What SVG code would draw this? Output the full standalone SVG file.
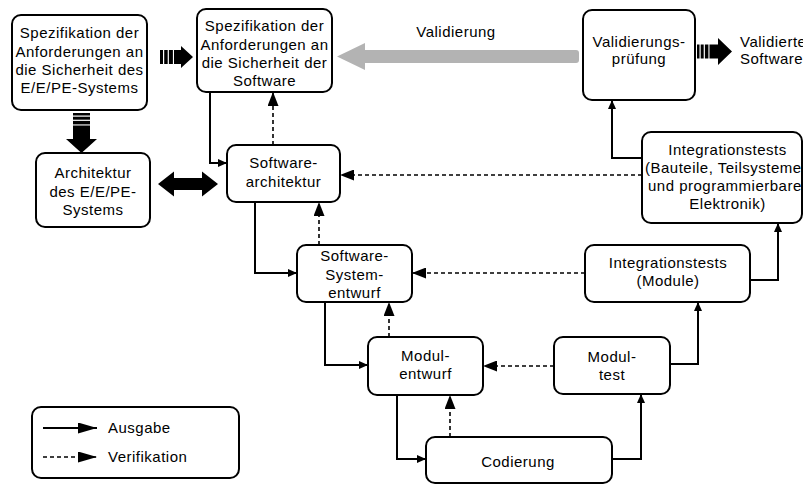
<svg xmlns="http://www.w3.org/2000/svg" width="803" height="484" viewBox="0 0 803 484">
  <style>
    .box { fill: #ffffff; stroke: #000000; stroke-width: 2; }
    .t { font-family: "Liberation Sans", Arial, sans-serif; font-size: 15px; letter-spacing: 0.5px; fill: #000000; text-anchor: middle; }
    .ts { text-anchor: start; }
    .out { fill: none; stroke: #000000; stroke-width: 2; marker-end: url(#headOut); }
    .ver { fill: none; stroke: #000000; stroke-width: 1.6; stroke-dasharray: 4 3; marker-end: url(#headVer); }
    .blk { fill: #000000; }
  </style>
  <defs>
    <marker id="headOut" markerUnits="userSpaceOnUse" markerWidth="9" markerHeight="8" refX="9" refY="4" orient="auto">
      <path d="M0,0 L9,4 L0,8 Z" fill="#000000"/>
    </marker>
    <marker id="headVer" markerUnits="userSpaceOnUse" markerWidth="14" markerHeight="11" refX="14" refY="5.5" orient="auto">
      <path d="M0,0 L14,5.5 L0,11 Z" fill="#000000"/>
    </marker>
    <marker id="headLeg" markerUnits="userSpaceOnUse" markerWidth="19" markerHeight="11" refX="19" refY="5.5" orient="auto">
      <path d="M0,0 L19,5.5 L0,11 Z" fill="#000000"/>
    </marker>
  </defs>

  <rect width="803" height="484" fill="#ffffff"/>

  <!-- connectors -->
  <g id="connectors">
    <!-- Validierung (grey block arrow) -->
    <path d="M337,56.5 L365,43 L365,50 L576,50 Q579,50 579,53 L579,60 Q579,63 576,63 L365,63 L365,70 Z" fill="#b3b3b3"/>
    <text class="t" x="456" y="37">Validierung</text>

    <!-- striped block arrow: system spec -> software spec -->
    <g class="blk">
      <rect x="160" y="50" width="3" height="14"/>
      <rect x="164.2" y="50" width="3.5" height="14"/>
      <rect x="168.9" y="50" width="4" height="14"/>
      <path d="M174,50 L181,50 L181,46 L193,57 L181,68 L181,64 L174,64 Z"/>
    </g>
    <!-- striped block arrow: system spec -> system architecture -->
    <g class="blk">
      <rect x="73" y="113" width="17" height="2.5"/>
      <rect x="73" y="116.7" width="17" height="3"/>
      <rect x="73" y="120.9" width="17" height="3.5"/>
      <path d="M73,125.5 L90,125.5 L90,139 L97,139 L81.5,153 L66,139 L73,139 Z"/>
    </g>
    <!-- striped block arrow: validation -> validated software -->
    <g class="blk">
      <rect x="697" y="44.5" width="2.5" height="14"/>
      <rect x="700.7" y="44.5" width="3" height="14"/>
      <rect x="704.9" y="44.5" width="3.5" height="14"/>
      <path d="M709.5,44.5 L718,44.5 L718,38 L732,51.5 L718,65 L718,58.5 L709.5,58.5 Z"/>
    </g>
    <!-- double block arrow between architectures -->
    <path class="blk" d="M158,184 L174,171.5 L174,178 L202,178 L202,171.5 L218,184 L202,196.5 L202,190 L174,190 L174,196.5 Z"/>

    <!-- output flows -->
    <path class="out" d="M210,92 L210,163 L227,163"/>
    <path class="out" d="M255,202 L255,273 L297,273"/>
    <path class="out" d="M325,302 L325,365 L368,365"/>
    <path class="out" d="M397,395 L397,459 L426,459"/>
    <path class="out" d="M612,459 L641,459 L641,394"/>
    <path class="out" d="M670,364 L698,364 L698,302"/>
    <path class="out" d="M750,280 L778,280 L778,223"/>
    <path class="out" d="M642,158 L612,158 L612,100"/>

    <!-- verification flows -->
    <path class="ver" d="M273,145 L273,92"/>
    <path class="ver" d="M319,245 L319,202"/>
    <path class="ver" d="M389,337 L389,302"/>
    <path class="ver" d="M450,437 L450,395"/>
    <path class="ver" d="M642,175 L340,175"/>
    <path class="ver" d="M585,273 L412,273"/>
    <path class="ver" d="M554,366 L483,366"/>
  </g>

  <g id="spec-system">
    <rect class="box" x="12" y="15" width="135" height="95" rx="9"/>
    <text class="t" x="79.5" y="38">Spezifikation der</text>
    <text class="t" x="79.5" y="56.5">Anforderungen an</text>
    <text class="t" x="79.5" y="75">die Sicherheit des</text>
    <text class="t" x="79.5" y="93">E/E/PE-Systems</text>
  </g>

  <g id="spec-software">
    <rect class="box" x="197" y="9" width="135" height="83" rx="9"/>
    <text class="t" x="264.5" y="31">Spezifikation der</text>
    <text class="t" x="264.5" y="49.5">Anforderungen an</text>
    <text class="t" x="264.5" y="68">die Sicherheit der</text>
    <text class="t" x="264.5" y="86">Software</text>
  </g>

  <g id="validation-test">
    <rect class="box" x="583" y="10" width="112" height="90" rx="9"/>
    <text class="t" x="639" y="47">Validierungs-</text>
    <text class="t" x="639" y="64">prüfung</text>
  </g>

  <g id="validated-software">
    <text class="t ts" x="740" y="47">Validierte</text>
    <text class="t ts" x="740" y="64">Software</text>
  </g>

  <g id="system-architecture">
    <rect class="box" x="36" y="153" width="114" height="74" rx="9"/>
    <text class="t" x="93" y="178">Architektur</text>
    <text class="t" x="93" y="197">des E/E/PE-</text>
    <text class="t" x="93" y="215">Systems</text>
  </g>

  <g id="software-architecture">
    <rect class="box" x="227" y="145" width="113" height="57" rx="9"/>
    <text class="t" x="283.5" y="168">Software-</text>
    <text class="t" x="283.5" y="187">architektur</text>
  </g>

  <g id="integration-tests-system">
    <rect class="box" x="642" y="132" width="160" height="91" rx="9"/>
    <text class="t" x="727.5" y="155">Integrationstests</text>
    <text class="t ts" x="645" y="173">(Bauteile, Teilsysteme</text>
    <text class="t ts" x="648" y="191">und programmierbare</text>
    <text class="t" x="727.5" y="209">Elektronik)</text>
  </g>

  <g id="software-system-design">
    <rect class="box" x="297" y="245" width="115" height="57" rx="9"/>
    <text class="t" x="354.5" y="261">Software-</text>
    <text class="t" x="354.5" y="280">System-</text>
    <text class="t" x="354.5" y="298">entwurf</text>
  </g>

  <g id="integration-tests-modules">
    <rect class="box" x="585" y="245" width="165" height="57" rx="9"/>
    <text class="t" x="668" y="268">Integrationstests</text>
    <text class="t" x="668" y="286">(Module)</text>
  </g>

  <g id="module-design">
    <rect class="box" x="368" y="337" width="115" height="58" rx="9"/>
    <text class="t" x="425.5" y="361">Modul-</text>
    <text class="t" x="425.5" y="379">entwurf</text>
  </g>

  <g id="module-test">
    <rect class="box" x="554" y="337" width="116" height="57" rx="9"/>
    <text class="t" x="612" y="362">Modul-</text>
    <text class="t" x="612" y="380">test</text>
  </g>

  <g id="coding">
    <rect class="box" x="426" y="437" width="186" height="46" rx="9"/>
    <text class="t" x="518" y="467">Codierung</text>
  </g>

  <g id="legend">
    <rect class="box" x="32" y="407" width="207" height="71" rx="9"/>
    <path d="M43,428 L97,428" fill="none" stroke="#000000" stroke-width="2" marker-end="url(#headLeg)"/>
    <path d="M43,457 L97,457" fill="none" stroke="#000000" stroke-width="1.6" stroke-dasharray="4 3" marker-end="url(#headLeg)"/>
    <text class="t ts" x="108" y="433">Ausgabe</text>
    <text class="t ts" x="108" y="462">Verifikation</text>
  </g>
</svg>
